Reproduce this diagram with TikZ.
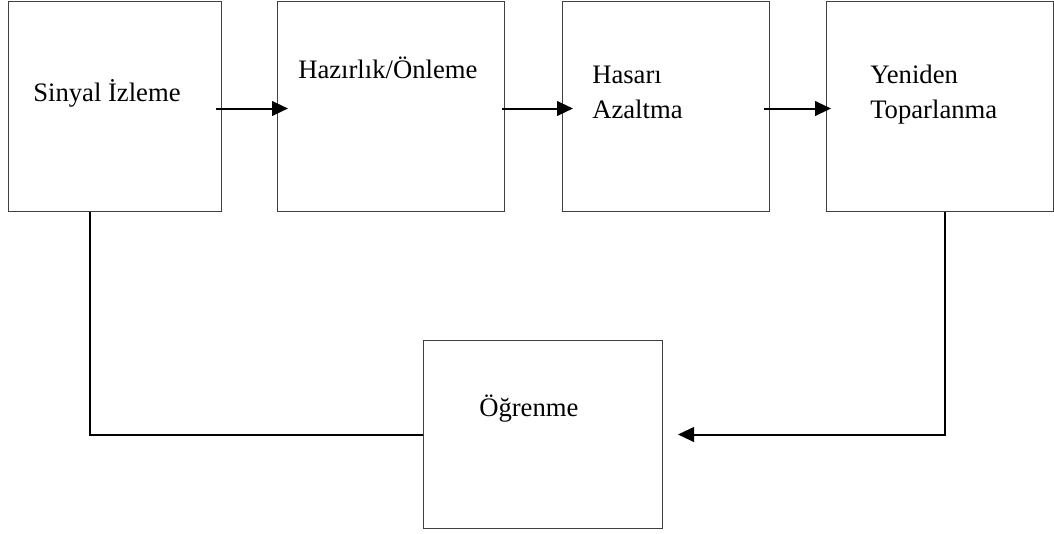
\documentclass[tikz,border=0pt]{standalone}
\usepackage{fontspec}
\setmainfont{Liberation Serif}
\usepackage{tikz}
\usetikzlibrary{arrows.meta, positioning, calc}

\begin{document}
\begin{tikzpicture}[x=0.75pt, y=-0.75pt,
  kutu/.style 2 args={draw=black!75, line width=0.75pt, anchor=north west,
    inner sep=0pt, minimum width=#1*0.75pt, minimum height=#2*0.75pt},
  yazi/.style={anchor=base west, inner sep=0pt, align=left,
    font=\fontsize{20}{26.25}\selectfont},
  cizgi/.style={line width=1.5pt},
  ok/.style={cizgi, -{Triangle[length=12pt, width=11pt]}}]
  \useasboundingbox (0,0) rectangle (1054,533);
  % main chain
  \node[kutu={213}{210}] (izleme) at (8,1) {};
  \node[kutu={227}{210}] (onleme) at (277,1) {};
  \node[kutu={207}{210}] (azaltma) at (562,1) {};
  \node[kutu={227}{210}] (toparlanma) at (826,1) {};
  \node[kutu={239}{188}] (ogrenme) at (423,340) {};
  % labels (base of the last line)
  \node[yazi] (t1) at (33,101) {Sinyal İzleme};
  \node[yazi] (t2) at (298,78) {Hazırlık/Önleme};
  \node[yazi] (t3) at (592,118) {Hasarı\\Azaltma};
  \node[yazi] (t4) at (870,118) {Yeniden\\Toparlanma};
  \node[yazi] (t5) at (479,416) {Öğrenme};
  % arrows between stages
  \draw[ok] ($(izleme.east)+(-6,2)$) -- ($(onleme.west)+(11,2)$);
  \draw[ok] ($(onleme.east)+(-3,2)$) -- ($(azaltma.west)+(11,2)$);
  \draw[ok] ($(azaltma.east)+(-6,2)$) -- ($(toparlanma.west)+(5,2)$);
  % feedback to learning
  \draw[cizgi] ($(izleme.south west)+(82,0)$) |- (ogrenme.west);
  \draw[ok] ($(toparlanma.south west)+(119,0)$) |- ($(ogrenme.east)+(15,0)$);
\end{tikzpicture}
\end{document}
